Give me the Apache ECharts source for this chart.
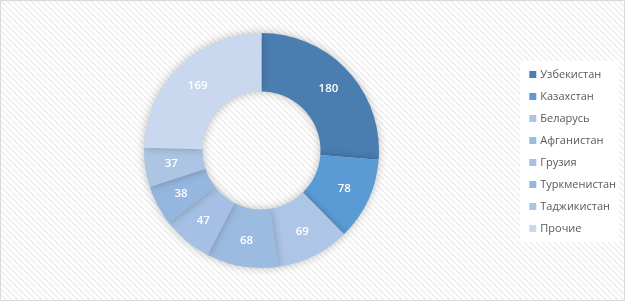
<!DOCTYPE html>
<html><head><meta charset="utf-8">
<script src="https://cdn.jsdelivr.net/npm/echarts@6/dist/echarts.min.js"></script>
<style>html,body{margin:0;padding:0;background:#fff}#c{width:625px;height:301px}</style>
</head><body><div id="c"></div>
<script>
const categories = ['Узбекистан','Казахстан','Беларусь','Афганистан','Грузия','Туркменистан','Таджикистан','Прочие'];
const values = [180, 78, 69, 68, 47, 38, 37, 169];
const colors = ['#4a7eb1','#5b9bd5','#adc5e7','#9bbbe0','#a5c0e4','#95b6de','#adc5e5','#c9d8ee'];

const pat = document.createElement('canvas');
pat.width = 6; pat.height = 6;
const g = pat.getContext('2d');
g.fillStyle = '#ffffff'; g.fillRect(0,0,6,6);
g.strokeStyle = '#efefef'; g.lineWidth = 1.6;
for (let k = -6; k <= 12; k += 6) { g.beginPath(); g.moveTo(k,0); g.lineTo(k+6,6); g.stroke(); }

const chart = echarts.init(document.getElementById('c'), null, {renderer:'canvas'});
chart.setOption({
  backgroundColor: {image: pat, repeat: 'repeat'},
  animation: false,
  graphic: [{type:'rect', shape:{x:0.5,y:0.5,width:624,height:300}, style:{fill:'none', stroke:'#d9d9d9', lineWidth:1}, silent:true, z:-1}],
  legend: {
    orient: 'vertical', right: 6, top: 61,
    backgroundColor: '#ffffff', padding: [8, 3, 8, 9],
    itemWidth: 7, itemHeight: 7, itemGap: 11, icon: 'rect',
    textStyle: {fontFamily: 'Open Sans', fontSize: 11, color: '#595959', padding:[0,0,0,-1]},
    data: categories
  },
  series: [{
    type: 'pie', center: [261.5, 150.5], radius: [59, 117.5],
    startAngle: 90, clockwise: true,
    avoidLabelOverlap: false,
    label: {show: true, position: 'inside', color: '#ffffff', fontFamily: 'Open Sans', fontSize: 11.5, fontWeight: 600, formatter: '{c}'},
    labelLine: {show: false},
    itemStyle: {borderWidth: 0, shadowBlur: 8, shadowColor: 'rgba(0,0,0,0.25)'},
    emphasis: {disabled: true},
    data: categories.map((n,i) => ({name: n, value: values[i], itemStyle: {color: colors[i]}}))
  }]
});
</script></body></html>
